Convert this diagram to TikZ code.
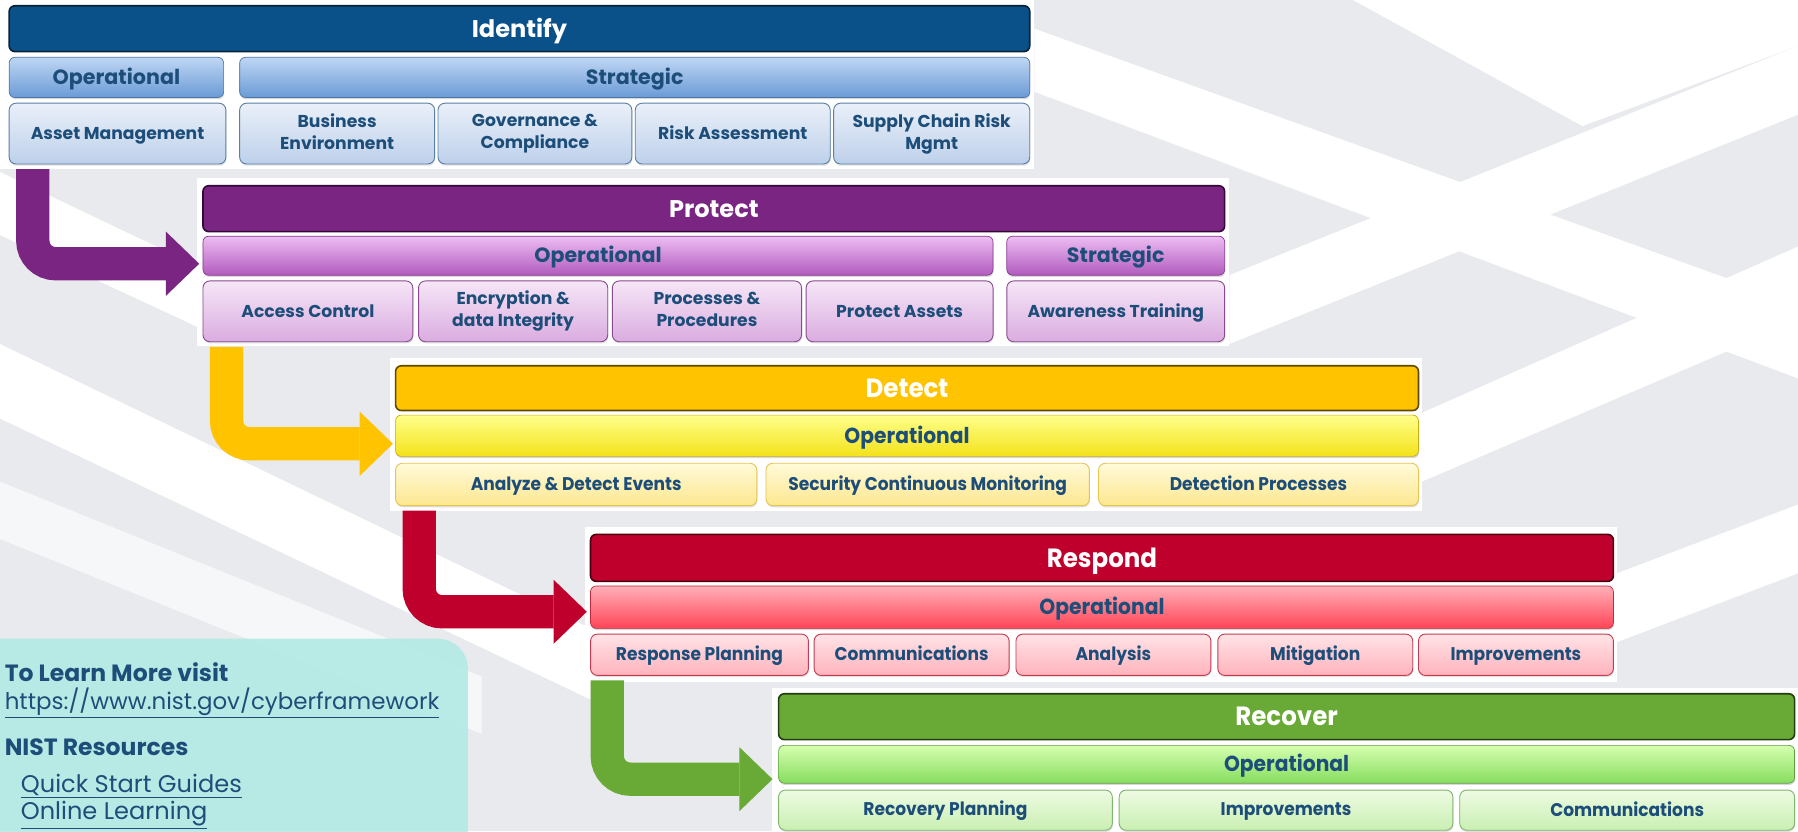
\documentclass[tikz,border=0pt]{standalone}
\usepackage{fontspec}
\setmainfont{Poppins}
\newfontfamily\narrowfont{Poppins}[FakeStretch=0.93]
\usepackage{tikz}
\usetikzlibrary{arrows.meta, shadows}

% keeps item labels centred whatever letters they hold
\newcommand\itmstrut{\rule[-3.4pt]{0pt}{17.6pt}}

\definecolor{txtblue}{HTML}{1D4E7A}
\definecolor{floor}{HTML}{E8EAED}
\definecolor{infoteal}{HTML}{B4EBE5}
% identify
\definecolor{idHead}{HTML}{0B5189}
\definecolor{idEdge}{HTML}{0A2238}
\definecolor{idGrpT}{HTML}{BFD6F3}
\definecolor{idGrpB}{HTML}{6A9BD6}
\definecolor{idGrpE}{HTML}{4A77A8}
\definecolor{idItmT}{HTML}{EAF0F9}
\definecolor{idItmB}{HTML}{BDD0EA}
\definecolor{idItmE}{HTML}{5C7FA6}
% protect
\definecolor{prHead}{HTML}{7A2581}
\definecolor{prEdge}{HTML}{33093A}
\definecolor{prGrpT}{HTML}{EDBDF2}
\definecolor{prGrpB}{HTML}{B15BBE}
\definecolor{prGrpE}{HTML}{87388F}
\definecolor{prItmT}{HTML}{F6E6F7}
\definecolor{prItmB}{HTML}{DAACE0}
\definecolor{prItmE}{HTML}{8A4A90}
% detect
\definecolor{deHead}{HTML}{FFC300}
\definecolor{deEdge}{HTML}{5E4A00}
\definecolor{deGrpT}{HTML}{FFFF8A}
\definecolor{deGrpB}{HTML}{F2E21A}
\definecolor{deGrpE}{HTML}{C9AE12}
\definecolor{deItmT}{HTML}{FFFAD9}
\definecolor{deItmB}{HTML}{FDE78F}
\definecolor{deItmE}{HTML}{E7C550}
% respond
\definecolor{rsHead}{HTML}{C0002C}
\definecolor{rsEdge}{HTML}{4A0010}
\definecolor{rsGrpT}{HTML}{FFB0B8}
\definecolor{rsGrpB}{HTML}{FF4457}
\definecolor{rsGrpE}{HTML}{C02A3E}
\definecolor{rsItmT}{HTML}{FFE3E6}
\definecolor{rsItmB}{HTML}{FFB3BC}
\definecolor{rsItmE}{HTML}{C43C52}
% recover
\definecolor{rvHead}{HTML}{69A935}
\definecolor{rvEdge}{HTML}{233D10}
\definecolor{rvGrpT}{HTML}{D6FFB0}
\definecolor{rvGrpB}{HTML}{86DD5E}
\definecolor{rvGrpE}{HTML}{5D9F40}
\definecolor{rvItmT}{HTML}{EEFBE3}
\definecolor{rvItmB}{HTML}{C9EFB2}
\definecolor{rvItmE}{HTML}{80B66E}

\begin{document}
\begin{tikzpicture}[x=1pt, y=-1pt,
    hdr/.style={rounded corners=5pt, fill=#1Head, draw=#1Edge, line width=1.4pt, inner sep=0pt,
                text=white, font=\bfseries\fontsize{21}{24}\selectfont, text height=16pt, text depth=1.3pt},
    grp/.style={rounded corners=5pt, top color=#1GrpT, bottom color=#1GrpB, draw=#1GrpE, line width=0.6pt,
                inner sep=0pt, text=txtblue, font=\bfseries\fontsize{18}{20}\selectfont,
                text height=13.5pt, text depth=0.9pt,
                drop shadow={shadow xshift=0.5pt, shadow yshift=-1.5pt, opacity=0.3}},
    itm/.style={rounded corners=6pt, top color=#1ItmT, bottom color=#1ItmB, draw=#1ItmE, line width=0.8pt,
                inner sep=0pt, align=center, text=txtblue, font=\bfseries\fontsize{15}{19}\selectfont,
                execute at begin node=\itmstrut, execute at end node=\itmstrut,
                drop shadow={shadow xshift=0.5pt, shadow yshift=-1.5pt, opacity=0.25}},
    flow/.style={draw=#1, line width=29pt, rounded corners=20pt,
                 -{Triangle[width=56pt, length=29pt, line width=0pt]}},
    info/.style={anchor=base west, inner sep=0pt, text=txtblue}]

  \useasboundingbox (0,0) rectangle (1568,725);
  \clip (0,0) rectangle (1568,725);

  % maze in the back
  \fill[floor] (0,0) rectangle (1568,725);
  \fill[white] (0,150) -- (0,205) -- (172,285) -- (172,232) -- cycle;
  \fill[white] (0,300) -- (0,365) -- (515,610) -- (515,548) -- cycle;
  \fill[white!60!floor] (0,420) -- (0,470) -- (420,640) -- (420,590) -- cycle;
  \fill[white] (902,25) -- (902,80) -- (1568,330) -- (1568,265) -- cycle;
  \fill[white] (1072,300) -- (1072,240) -- (1568,40) -- (1568,100) -- cycle;
  \fill[white] (1240,420) -- (1240,360) -- (1568,215) -- (1568,280) -- cycle;
  \fill[white] (1410,560) -- (1410,500) -- (1568,440) -- (1568,500) -- cycle;
  \fill[white] (1180,0) -- (1568,0) -- (1568,40) -- (1380,110) -- cycle;

  % white cards behind each function
  \fill[white] (0,0) rectangle (902,147);
  \fill[white] (172,155) rectangle (1072,302);
  \fill[white] (340,312) rectangle (1240,446);
  \fill[white] (510,460) rectangle (1410,595);
  \fill[white] (673,600) rectangle (1568,725);

  % Identify
  \node[hdr=id, minimum width=890pt, minimum height=40pt] (id) at (453,25) {Identify};
  \node[grp=id, minimum width=187pt, minimum height=35pt] (idop) at (101.5,67.5) {Operational};
  \node[grp=id, minimum width=689pt, minimum height=35pt] (idst) at (553.5,67.5) {Strategic};
  \foreach \nm/\xa/\xb/\txt in {am/8/197/{Asset Management}, be/209/379/{Business\\Environment},
      gc/382/551/{Governance \&\\Compliance}, ra/554/724/{Risk Assessment}, sc/727/898/{Supply Chain Risk\\Mgmt}}
    \node[itm=id, minimum width={(\xb-\xa)*1pt}, minimum height=53pt] (\nm) at ({(\xa+\xb)/2},116.5) {\txt};

  % Protect
  \node[hdr=pr, minimum width=891pt, minimum height=40pt] (pr) at (622.5,182) {Protect};
  \node[grp=pr, minimum width=689pt, minimum height=34pt] (prop) at (521.5,223) {Operational};
  \node[grp=pr, minimum width=190pt, minimum height=34pt] (prst) at (973,223) {Strategic};
  \foreach \nm/\xa/\xb/\txt in {ac/177/360/{Access Control}, ei/365/530/{Encryption \&\\data Integrity},
      pp/534/699/{Processes \&\\Procedures}, pa/703/866/{Protect Assets}, aw/878/1068/{Awareness Training}}
    \node[itm=pr, minimum width={(\xb-\xa)*1pt}, minimum height=53pt] (\nm) at ({(\xa+\xb)/2},271.5) {\txt};

  \begin{scope}[
      hdr/.append style={font=\narrowfont\bfseries\fontsize{23}{26}\selectfont, text height=17pt, text depth=0.9pt},
      grp/.append style={font=\narrowfont\bfseries\fontsize{19}{21}\selectfont, text height=14.2pt, text depth=0.9pt},
      itm/.append style={font=\narrowfont\bfseries\fontsize{16}{19}\selectfont}]
  % Detect
  \node[hdr=de, minimum width=892pt, minimum height=39pt] (de) at (791,338.5) {Detect};
  \node[grp=de, minimum width=892pt, minimum height=36pt] (deop) at (791,380) {Operational};
  \foreach \nm/\xa/\xb/\txt in {ae/345/660/{Analyze \& Detect Events}, sm/668/950/{Security Continuous Monitoring},
      dp/958/1237/{Detection Processes}}
    \node[itm=de, minimum width={(\xb-\xa)*1pt}, minimum height=37pt] (\nm) at ({(\xa+\xb)/2},422.5) {\txt};

  % Respond
  \node[hdr=rs, minimum width=892pt, minimum height=41pt] (rs) at (961,486.5) {Respond};
  \node[grp=rs, minimum width=892pt, minimum height=37pt] (rsop) at (961,529.5) {Operational};
  \foreach \nm/\xa/\xb/\txt in {rp/515/705/{Response Planning}, rc/710/880/{Communications},
      ran/886/1056/{Analysis}, mi/1062/1232/{Mitigation}, ri/1237/1407/{Improvements}}
    \node[itm=rs, minimum width={(\xb-\xa)*1pt}, minimum height=36pt] (\nm) at ({(\xa+\xb)/2},571) {\txt};

  % Recover
  \node[hdr=rv, minimum width=886pt, minimum height=40pt] (rv) at (1122,625) {Recover};
  \node[grp=rv, minimum width=886pt, minimum height=33pt] (rvop) at (1122,666.5) {Operational};
  \foreach \nm/\xa/\xb/\txt in {vp/679/970/{Recovery Planning}, vi/976/1267/{Improvements},
      vc/1273/1565/{Communications}}
    \node[itm=rv, minimum width={(\xb-\xa)*1pt}, minimum height=35pt] (\nm) at ({(\xa+\xb)/2},706.5) {\txt};
  \end{scope}

  % bent arrows from one function down to the next
  \coordinate (s1) at ([xshift=21pt, yshift=-4pt]am.south west);
  \coordinate (t1) at ([xshift=-3pt, yshift=-7pt]prop.west);
  \coordinate (s2) at ([xshift=21pt, yshift=-4pt]ac.south west);
  \coordinate (t2) at ([xshift=-2pt, yshift=-7pt]deop.west);
  \coordinate (s3) at ([xshift=21pt, yshift=-4pt]ae.south west);
  \coordinate (t3) at ([xshift=-3pt, yshift=-4pt]rsop.west);
  \coordinate (s4) at ([xshift=15pt, yshift=-4pt]rp.south west);
  \coordinate (t4) at ([xshift=-5pt, yshift=-13pt]rvop.west);
  \draw[flow=prHead] (s1) |- (t1);
  \draw[flow=deHead] (s2) |- (t2);
  \draw[flow=rsHead] (s3) |- (t3);
  \draw[flow=rvHead] (s4) |- (t4);

  % links box
  \fill[infoteal, opacity=0.92, rounded corners=26pt] (-40,557) rectangle (408,770);
  \node[info, font=\bfseries\fontsize{20.5}{23}\selectfont] (learn) at (4,594) {To Learn More visit};
  \node[info, font=\fontsize{20}{22}\selectfont] (url) at (4,619) {\underline{https://www.nist.gov/cyberframework}};
  \node[info, font=\bfseries\fontsize{20.5}{23}\selectfont] (res) at (4,659) {NIST Resources};
  \node[info, font=\fontsize{21}{23}\selectfont] (qsg) at (18,691) {\underline{Quick Start Guides}};
  \node[info, font=\fontsize{21}{23}\selectfont] (onl) at (18,715) {\underline{Online Learning}};

\end{tikzpicture}
\end{document}
